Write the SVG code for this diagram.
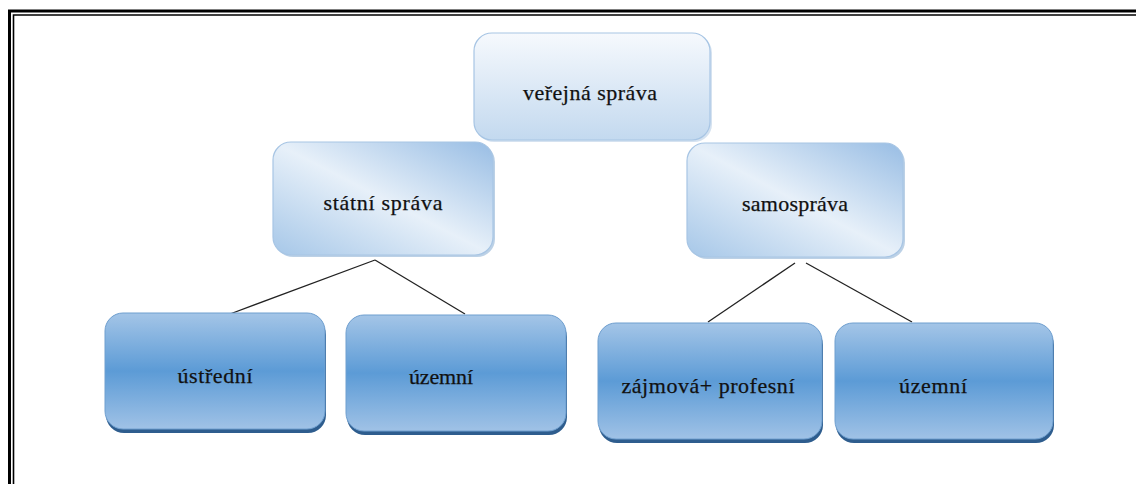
<svg xmlns="http://www.w3.org/2000/svg" width="1136" height="484" viewBox="0 0 1136 484">
  <style>
    .t { font-family: "Liberation Serif", "Times New Roman", serif; font-size: 22px; fill: #111; text-anchor: middle; stroke: #111; stroke-width: 0.25; }
    .top { stroke: #a7c5e4; stroke-width: 1.2; }
    .low { stroke: #6f9fcf; stroke-width: 1; }
    .conn { stroke: #222; stroke-width: 1.3; fill: none; }
  </style>
  <defs>
    <linearGradient id="gTop" x1="0" y1="0" x2="0" y2="1">
      <stop offset="0" stop-color="#f6f9fd"/>
      <stop offset="1" stop-color="#c3d9ef"/>
    </linearGradient>
    <linearGradient id="gDiag" x1="1" y1="0" x2="0" y2="1">
      <stop offset="0" stop-color="#98bde4"/>
      <stop offset="0.5" stop-color="#e7f0f9"/>
      <stop offset="1" stop-color="#a6c7e8"/>
    </linearGradient>
    <linearGradient id="gLow" x1="0" y1="0" x2="0" y2="1">
      <stop offset="0" stop-color="#a4c5e7"/>
      <stop offset="0.5" stop-color="#5c9bd6"/>
      <stop offset="1" stop-color="#a0c2e6"/>
    </linearGradient>
  </defs>

  <!-- frame -->
  <g id="frame" fill="none" stroke="#000">
    <path d="M9.5 484 V11 H1136" stroke-width="3"/>
    <path d="M13.5 484 V15 H1136" stroke-width="1.6"/>
  </g>

  <!-- connectors -->
  <g id="connectors">
    <line class="conn" x1="375" y1="260" x2="230" y2="314"/>
    <line class="conn" x1="375" y1="260" x2="465" y2="314"/>
    <line class="conn" x1="795" y1="263" x2="708" y2="322"/>
    <line class="conn" x1="806" y1="263" x2="912" y2="322"/>
  </g>

  <g id="n-verejna">
    <rect x="476" y="35" width="236" height="107" rx="18" fill="#b9cfe6" opacity="0.6"/>
    <rect class="top" x="474" y="33" width="236" height="107" rx="18" fill="url(#gTop)"/>
    <text class="t" x="590" y="100" textLength="134" lengthAdjust="spacing">veřejná správa</text>
  </g>

  <g id="n-statni">
    <rect x="275" y="144" width="220" height="113" rx="18" fill="#8fb2d6" opacity="0.6"/>
    <rect class="top" x="273" y="142" width="220" height="113" rx="18" fill="url(#gDiag)"/>
    <text class="t" x="383" y="210" textLength="119" lengthAdjust="spacing">státní správa</text>
  </g>

  <g id="n-samosprava">
    <rect x="689" y="145" width="216" height="114" rx="18" fill="#8fb2d6" opacity="0.6"/>
    <rect class="top" x="687" y="143" width="216" height="114" rx="18" fill="url(#gDiag)"/>
    <text class="t" x="795" y="211" textLength="106" lengthAdjust="spacing">samospráva</text>
  </g>

  <g id="n-ustredni">
    <rect x="106" y="317" width="220" height="116" rx="18" fill="#2e5d8e"/>
    <rect class="low" x="105" y="313" width="220" height="116" rx="18" fill="url(#gLow)"/>
    <text class="t" x="215" y="383" textLength="75" lengthAdjust="spacing">ústřední</text>
  </g>

  <g id="n-uzemni-1">
    <rect x="347" y="319" width="220" height="116" rx="18" fill="#2e5d8e"/>
    <rect class="low" x="346" y="315" width="220" height="116" rx="18" fill="url(#gLow)"/>
    <text class="t" x="441" y="384" textLength="64" lengthAdjust="spacing">územní</text>
  </g>

  <g id="n-zajmova">
    <rect x="599" y="327" width="224" height="116" rx="18" fill="#2e5d8e"/>
    <rect class="low" x="598" y="323" width="224" height="116" rx="18" fill="url(#gLow)"/>
    <text class="t" x="708" y="393" textLength="173" lengthAdjust="spacing">zájmová+ profesní</text>
  </g>

  <g id="n-uzemni-2">
    <rect x="836" y="327" width="218" height="116" rx="18" fill="#2e5d8e"/>
    <rect class="low" x="835" y="323" width="218" height="116" rx="18" fill="url(#gLow)"/>
    <text class="t" x="933" y="393" textLength="68" lengthAdjust="spacing">územní</text>
  </g>
</svg>
